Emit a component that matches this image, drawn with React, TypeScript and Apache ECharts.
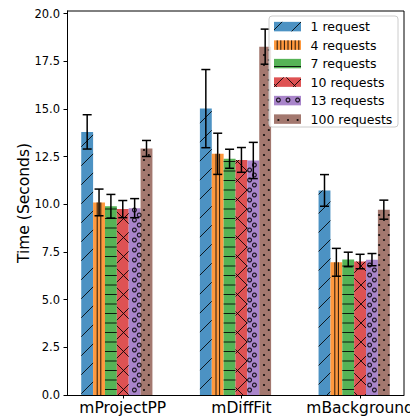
import React, { useEffect, useRef } from "react";
import * as echarts from "echarts";

// ---- data ----
const categories = ["mProjectPP", "mDiffFit", "mBackground"];
const seriesNames = ["1 request", "4 requests", "7 requests", "10 requests", "13 requests", "100 requests"];
const req1 = [13.8, 15.02, 10.73];
const err1 = [0.9, 2.05, 0.83];
const req4 = [10.1, 12.65, 6.96];
const err4 = [0.7, 1.08, 0.73];
const req7 = [9.9, 12.39, 7.11];
const err7 = [0.62, 0.5, 0.38];
const req10 = [9.75, 12.33, 7.0];
const err10 = [0.45, 0.65, 0.38];
const req13 = [9.8, 12.3, 7.1];
const err13 = [0.5, 0.95, 0.32];
const req100 = [12.93, 18.27, 9.72];
const err100 = [0.42, 0.92, 0.5];
const yTicks = [0, 2.5, 5, 7.5, 10, 12.5, 15, 17.5, 20];

const means = [req1, req4, req7, req10, req13, req100];
const errs = [err1, err4, err7, err10, err13, err100];
const colors = ["#4c92c3", "#ff993e", "#56b356", "#de5253", "#a985ca", "#a3786f"];
const patterns = ["/", "|", "-", "x", "o", "."];

const BAR_W = 0.1;
const FONT = "DejaVu Sans";
const HATCH = "rgba(0,0,0,0.85)";

function hatchEls(pat: string, x0: number, y0: number, x1: number, y1: number): any[] {
  const els: any[] = [];
  const ls = { stroke: HATCH, lineWidth: 1, fill: "none" };
  const line = (ax: number, ay: number, bx: number, by: number) =>
    els.push({ type: "line", shape: { x1: ax, y1: ay, x2: bx, y2: by }, style: ls, silent: true, z2: 5 });
  if (pat === "/" || pat === "x") {
    const P = 19;
    for (let c = Math.ceil((x0 + y0) / P) * P; c <= x1 + y1; c += P) {
      const xa = Math.max(x0, c - y1);
      const xb = Math.min(x1, c - y0);
      if (xb - xa > 0.3) line(xa, c - xa, xb, c - xb);
    }
  }
  if (pat === "x") {
    const P = 19;
    for (let c = Math.ceil((x0 - y1) / P) * P; c <= x1 - y0; c += P) {
      const xa = Math.max(x0, c + y0);
      const xb = Math.min(x1, c + y1);
      if (xb - xa > 0.3) line(xa, xa - c, xb, xb - c);
    }
  }
  if (pat === "|") {
    const P = 3.6;
    for (let x = Math.ceil((x0 + 0.8) / P) * P; x < x1 - 0.8; x += P) line(x, y0, x, y1);
  }
  if (pat === "-") {
    const P = 9.5;
    for (let y = Math.ceil((y0 + 0.8) / P) * P; y < y1 - 0.8; y += P) line(x0, y, x1, y);
  }
  if (pat === "o" || pat === ".") {
    const dx = 9.6;
    const dy = 5;
    const r = pat === "o" ? 1.9 : 1.1;
    for (let k = Math.ceil(y0 / dy); k * dy <= y1; k++) {
      const cy = k * dy;
      if (cy - r < y0 - 0.3 || cy + r > y1 + 0.3) continue;
      const off = k % 2 ? dx / 2 : 0;
      for (let j = Math.ceil((x0 - off) / dx); j * dx + off <= x1; j++) {
        const cx = j * dx + off;
        if (cx - r < x0 - 0.6 || cx + r > x1 + 0.6) continue;
        els.push({
          type: "circle",
          shape: { cx, cy, r },
          style: pat === "o" ? { fill: "none", stroke: HATCH, lineWidth: 1.2 } : { fill: HATCH },
          silent: true,
          z2: 5,
        });
      }
    }
  }
  return els;
}

function buildOption() {
  const barSeries = means.map((vals, j) => ({
    type: "custom",
    name: seriesNames[j],
    z: 2,
    data: vals.map((v, i) => [i + (j - 3) * BAR_W, v]),
    renderItem: (params: any, api: any) => {
      const xv = api.value(0);
      const yv = api.value(1);
      const top = api.coord([xv, yv]);
      const base = api.coord([xv, 0]);
      const w = api.size([BAR_W, 0])[0];
      const x0 = top[0] - w / 2;
      const x1 = top[0] + w / 2;
      const y0 = top[1];
      const y1 = base[1];
      return {
        type: "group",
        children: [
          { type: "rect", shape: { x: x0, y: y0, width: w, height: y1 - y0 }, style: { fill: colors[j] } },
          ...hatchEls(patterns[j], x0, y0, x1, y1),
        ],
      };
    },
  }));
  const errSeries = means.map((vals, j) => ({
    type: "custom",
    z: 4,
    data: vals.map((v, i) => [i + (j - 3) * BAR_W, v, errs[j][i]]),
    renderItem: (params: any, api: any) => {
      const xv = api.value(0);
      const m = api.value(1);
      const e = api.value(2);
      const hi = api.coord([xv, m + e]);
      const lo = api.coord([xv, m - e]);
      const cap = 4.5;
      const st = { stroke: "#000", lineWidth: 1.5 };
      return {
        type: "group",
        children: [
          { type: "line", shape: { x1: hi[0], y1: hi[1], x2: lo[0], y2: lo[1] }, style: st },
          { type: "line", shape: { x1: hi[0] - cap, y1: hi[1], x2: hi[0] + cap, y2: hi[1] }, style: st },
          { type: "line", shape: { x1: lo[0] - cap, y1: lo[1], x2: lo[0] + cap, y2: lo[1] }, style: st },
        ],
      };
    },
  }));

  // legend drawn with graphic elements
  const legendEls: any[] = [
    {
      type: "rect",
      shape: { x: 269, y: 16, width: 129, height: 111, r: 3 },
      style: { fill: "rgba(255,255,255,0.8)", stroke: "#cccccc", lineWidth: 1 },
      z: 100,
    },
  ];
  seriesNames.forEach((name, j) => {
    const cy = 26.6 + j * 18.5;
    const px0 = 274;
    const px1 = 301;
    const py0 = cy - 4.75;
    const py1 = cy + 4.75;
    legendEls.push({
      type: "rect",
      shape: { x: px0, y: py0, width: px1 - px0, height: py1 - py0 },
      style: { fill: colors[j] },
      z: 101,
    });
    hatchEls(patterns[j], px0, py0, px1, py1).forEach((el) => legendEls.push({ ...el, z: 102 }));
    legendEls.push({
      type: "text",
      x: 310.5,
      y: cy,
      style: { text: name, fill: "#000", font: `12.5px '${FONT}'`, textVerticalAlign: "middle", textAlign: "left" },
      z: 103,
    });
  });

  return {
    animation: false,
    backgroundColor: "#fff",
    textStyle: { fontFamily: FONT },
    grid: { left: 67, top: 11, width: 337, height: 384, containLabel: false, outerBoundsMode: "none" },
    xAxis: {
      type: "value",
      min: -0.47,
      max: 2.37,
      splitLine: { show: false },
      axisLine: { show: true, onZero: false, lineStyle: { color: "#000", width: 1 } },
      axisTick: { show: true, length: 3.5, lineStyle: { color: "#000" }, customValues: [0, 1, 2] },
      axisLabel: {
        customValues: [0, 1, 2],
        formatter: (v: number) => categories[Math.round(v)] ?? "",
        color: "#000",
        fontSize: 15.5,
        fontFamily: FONT,
        margin: 5,
      },
    },
    yAxis: {
      type: "value",
      min: 0,
      max: 20.14,
      name: "Time (Seconds)",
      nameLocation: "middle",
      nameGap: 35,
      nameMoveOverlap: false,
      nameTextStyle: { fontSize: 15.5, color: "#000", fontFamily: FONT },
      splitLine: { show: false },
      axisLine: { show: true, onZero: false, lineStyle: { color: "#000", width: 1 } },
      axisTick: { show: true, length: 3.5, lineStyle: { color: "#000" }, customValues: yTicks },
      axisLabel: {
        customValues: yTicks,
        formatter: (v: number) => v.toFixed(1),
        color: "#000",
        fontSize: 11.5,
        fontFamily: FONT,
        margin: 7,
      },
    },
    graphic: [
      // top and right spines
      {
        type: "polyline",
        shape: { points: [[67, 11], [404, 11], [404, 395]] },
        style: { stroke: "#000", lineWidth: 1, fill: "none" },
        z: 50,
        silent: true,
      },
      ...legendEls,
    ],
    series: [...barSeries, ...errSeries],
  };
}

export default function App() {
  const ref = useRef<HTMLDivElement>(null);
  useEffect(() => {
    document.body.style.margin = "0";
    if (!ref.current) return;
    const chart = echarts.init(ref.current, undefined, { renderer: "svg" });
    chart.setOption(buildOption() as any);
    return () => chart.dispose();
  }, []);
  return <div ref={ref} style={{ width: 410, height: 419 }} />;
}
